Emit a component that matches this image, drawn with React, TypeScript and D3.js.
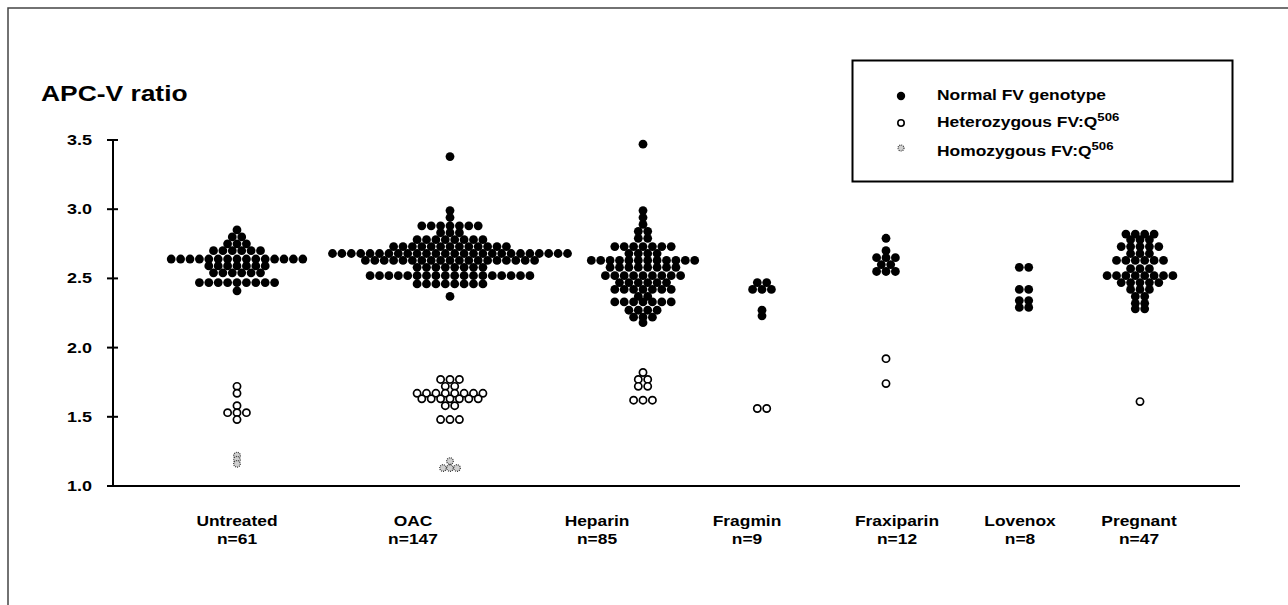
import React from 'react';
import * as d3 from 'd3';

// groups along the x axis, with the n printed under each label
const categories = ['Untreated', 'OAC', 'Heparin', 'Fragmin', 'Fraxiparin', 'Lovenox', 'Pregnant'];
const groupN = [61, 147, 85, 9, 12, 8, 47];

// each row of dots: [APC-V ratio, number of patients at that ratio]
const normalRows: [number, number][][] = [
  [[2.85, 1], [2.8, 2], [2.75, 3], [2.7, 6], [2.64, 15], [2.59, 7], [2.54, 6], [2.47, 9], [2.41, 1]],
  [[3.38, 1], [2.99, 1], [2.94, 1], [2.88, 7], [2.83, 3], [2.78, 8], [2.73, 13], [2.68, 26], [2.63, 19], [2.58, 8], [2.52, 18], [2.46, 8], [2.37, 1]],
  [[3.47, 1], [2.99, 1], [2.94, 1], [2.89, 1], [2.84, 2], [2.79, 2], [2.73, 7], [2.68, 4], [2.63, 12], [2.58, 8], [2.52, 9], [2.47, 6], [2.42, 7], [2.37, 2], [2.33, 7], [2.27, 4], [2.22, 3], [2.18, 1]],
  [[2.47, 2], [2.42, 3], [2.27, 1], [2.23, 1]],
  [[2.79, 1], [2.7, 1], [2.65, 3], [2.6, 2], [2.55, 3]],
  [[2.58, 2], [2.42, 2], [2.34, 2], [2.29, 2]],
  [[2.82, 4], [2.78, 3], [2.73, 5], [2.68, 3], [2.63, 6], [2.57, 3], [2.52, 8], [2.47, 5], [2.42, 3], [2.37, 2], [2.32, 2], [2.28, 2]],
];
const heteroRows: [number, number][][] = [
  [[1.72, 1], [1.67, 1], [1.58, 1], [1.53, 3], [1.48, 1]],
  [[1.77, 3], [1.72, 2], [1.67, 8], [1.63, 7], [1.58, 2], [1.48, 3]],
  [[1.82, 1], [1.77, 2], [1.72, 2], [1.62, 3]],
  [[1.56, 2]],
  [[1.92, 1], [1.74, 1]],
  [],
  [[1.61, 1]],
];
const homoRows: [number, number][][] = [
  [[1.22, 1], [1.19, 1], [1.16, 1]],
  [[1.18, 1], [1.13, 3]],
  [], [], [], [], [],
];

const yTicks = [1.0, 1.5, 2.0, 2.5, 3.0, 3.5];
const legendLabels = ['Normal FV genotype', 'Heterozygous FV:Q', 'Homozygous FV:Q'];

const W = 1288;
const H = 605;
const FONT = '"Liberation Sans", Arial, sans-serif';
const STRETCH = 1.2; // the original figure is wider than tall, text included

const y = d3.scaleLinear().domain([1, 3.5]).range([486, 140]);
const xGroup = d3.scaleOrdinal<string, number>().domain(categories).range([237, 450, 643, 762, 886, 1024, 1140]);
const xLabel = d3.scaleOrdinal<string, number>().domain(categories).range([237, 413, 597, 747, 897, 1020, 1139]);

function layRows(cat: string, rows: [number, number][], step: number) {
  const cx = xGroup(cat);
  return rows.flatMap(([v, n]) =>
    d3.range(n).map(i => ({ x: cx + (i - (n - 1) / 2) * step, y: y(v) }))
  );
}

function T({ x, y: ty, size, anchor = 'start', children }: any) {
  return (
    <text
      transform={`translate(${x},${ty}) scale(${STRETCH},1)`}
      textAnchor={anchor}
      fontFamily={FONT}
      fontWeight="bold"
      fontSize={size}
      fill="#000"
    >
      {children}
    </text>
  );
}

const Homo = ({ cx, cy, r = 3.3 }: any) => (
  <circle cx={cx} cy={cy} r={r} fill="#cfcfcf" stroke="#333" strokeWidth={1.2} strokeDasharray="1 1" />
);

export default function App() {
  const axisX = 113;
  const axisEnd = 1240;

  return (
    <svg width={W} height={H} style={{ position: 'absolute', left: 0, top: 0, background: '#fff' }}>
      {/* outer frame */}
      <path d={`M8,${H} V8 H${W}`} fill="none" stroke="#444" strokeWidth={1.5} />

      <T x={41} y={101} size={22}>APC-V ratio</T>

      {/* y axis */}
      <line x1={axisX} x2={axisX} y1={y(3.5)} y2={y(1)} stroke="#000" strokeWidth={2} />
      {yTicks.map(t => (
        <g key={t}>
          <line x1={axisX - 6} x2={axisX + 5} y1={y(t)} y2={y(t)} stroke="#000" strokeWidth={2} />
          <T x={92} y={y(t) + 5} size={15} anchor="end">{d3.format('.1f')(t)}</T>
        </g>
      ))}
      {/* x axis */}
      <line x1={axisX} x2={axisEnd} y1={y(1)} y2={y(1)} stroke="#000" strokeWidth={2} />

      {categories.map((c, i) => (
        <g key={c}>
          <T x={xLabel(c)} y={526} size={14.5} anchor="middle">{c}</T>
          <T x={xLabel(c)} y={544} size={14.5} anchor="middle">{`n=${groupN[i]}`}</T>
          {layRows(c, normalRows[i], 9.4).map((d, j) => (
            <circle key={'n' + j} cx={d.x} cy={d.y} r={4.4} fill="#000" />
          ))}
          {layRows(c, heteroRows[i], 9.4).map((d, j) => (
            <circle key={'h' + j} cx={d.x} cy={d.y} r={3.6} fill="#fff" stroke="#000" strokeWidth={1.7} />
          ))}
          {layRows(c, homoRows[i], 7).map((d, j) => (
            <Homo key={'o' + j} cx={d.x} cy={d.y} />
          ))}
        </g>
      ))}

      {/* legend */}
      <rect x={852.5} y={60.5} width={380} height={121} fill="#fff" stroke="#000" strokeWidth={2} />
      <circle cx={901} cy={96} r={4.2} fill="#000" />
      <circle cx={901} cy={123} r={3.2} fill="#fff" stroke="#000" strokeWidth={1.6} />
      <Homo cx={901} cy={148} r={3} />
      <T x={937} y={100} size={14.5}>{legendLabels[0]}</T>
      <T x={937} y={127} size={14.5}>
        {legendLabels[1]}
        <tspan fontSize={11} dy={-6}>506</tspan>
      </T>
      <T x={937} y={156} size={14.5}>
        {legendLabels[2]}
        <tspan fontSize={11} dy={-6}>506</tspan>
      </T>
    </svg>
  );
}
